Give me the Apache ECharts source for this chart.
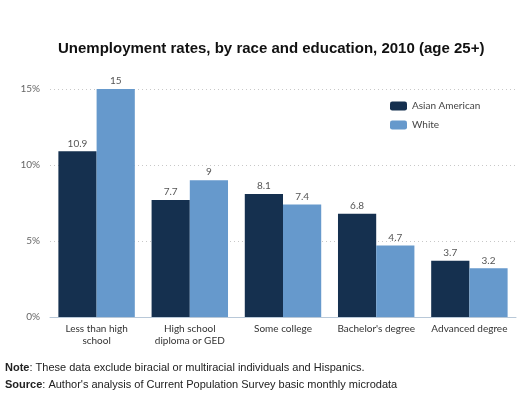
<!DOCTYPE html>
<html>
<head>
<meta charset="utf-8">
<script src="https://cdn.jsdelivr.net/npm/echarts@6/dist/echarts.min.js"></script>
<style>
  html, body { margin: 0; padding: 0; background: #fff; }
  #chart { width: 519px; height: 396px; }
</style>
</head>
<body>
<div id="chart"></div>
<script>
// unemployment by education level, 2010
const categories = [
  "Less than high\nschool",
  "High school\ndiploma or GED",
  "Some college",
  "Bachelor's degree",
  "Advanced degree",
];
const asianAmerican = [10.9, 7.7, 8.1, 6.8, 3.7];
const white = [15, 9, 7.4, 4.7, 3.2];
const yTicks = [0, 5, 10, 15];

const DARK = "#15304f";
const LIGHT = "#6699cc";

const chart = echarts.init(document.getElementById("chart"));

const barLabel = {
  show: true,
  position: "top",
  distance: 3,
  fontSize: 10,
  color: "#555",
  fontFamily: "Lato, 'Open Sans', sans-serif",
};

chart.setOption({
  backgroundColor: "#fff",
  animation: false,
  title: {
    text: "Unemployment rates, by race and education, 2010 (age 25+)",
    left: 53,
    top: 36,
    textStyle: {
      fontFamily: "Liberation Sans, Arial, sans-serif",
      fontSize: 15,
      fontWeight: "bold",
      color: "#111",
    },
  },
  legend: {
    orient: "vertical",
    left: 385,
    top: 96,
    itemWidth: 17,
    itemHeight: 9,
    itemGap: 9,
    textStyle: {
      fontSize: 10,
      color: "#444",
      fontFamily: "Lato, 'Open Sans', sans-serif",
    },
    data: ["Asian American", "White"],
  },
  grid: { left: 50, right: 3, top: 89, bottom: 79 },
  xAxis: {
    type: "category",
    data: categories,
    axisLine: { lineStyle: { color: "#b8c8d8", width: 1 } },
    axisTick: { show: false },
    axisLabel: {
      interval: 0,
      fontSize: 10,
      lineHeight: 12,
      margin: 6,
      color: "#333",
      fontFamily: "Lato, 'Open Sans', sans-serif",
    },
  },
  yAxis: {
    type: "value",
    min: 0,
    max: yTicks[yTicks.length - 1],
    interval: 5,
    axisLine: { show: false },
    axisTick: { show: false },
    axisLabel: {
      formatter: "{value}%",
      fontSize: 10,
      margin: 10,
      color: "#666",
      fontFamily: "Lato, 'Open Sans', sans-serif",
    },
    splitLine: { lineStyle: { color: "#c8c8c8", type: [1, 3] } },
  },
  series: [
    {
      name: "Asian American",
      type: "bar",
      data: asianAmerican,
      barGap: "0%",
      barCategoryGap: "18%",
      itemStyle: { color: DARK },
      label: barLabel,
    },
    {
      name: "White",
      type: "bar",
      data: white,
      itemStyle: { color: LIGHT },
      label: barLabel,
    },
  ],
  graphic: [
    {
      type: "text",
      left: 5,
      top: 362,
      style: {
        text: "{b|Note}: These data exclude biracial or multiracial individuals and Hispanics.",
        rich: {
          b: { fontWeight: "bold", fontSize: 11, fontFamily: "Liberation Sans, Arial, sans-serif", fill: "#222" },
        },
        fontSize: 11,
        fontFamily: "Liberation Sans, Arial, sans-serif",
        fill: "#222",
      },
    },
    {
      type: "text",
      left: 5,
      top: 379,
      style: {
        text: "{b|Source}: Author's analysis of Current Population Survey basic monthly microdata",
        rich: {
          b: { fontWeight: "bold", fontSize: 11, fontFamily: "Liberation Sans, Arial, sans-serif", fill: "#222" },
        },
        fontSize: 11,
        fontFamily: "Liberation Sans, Arial, sans-serif",
        fill: "#222",
      },
    },
  ],
});
</script>
</body>
</html>
